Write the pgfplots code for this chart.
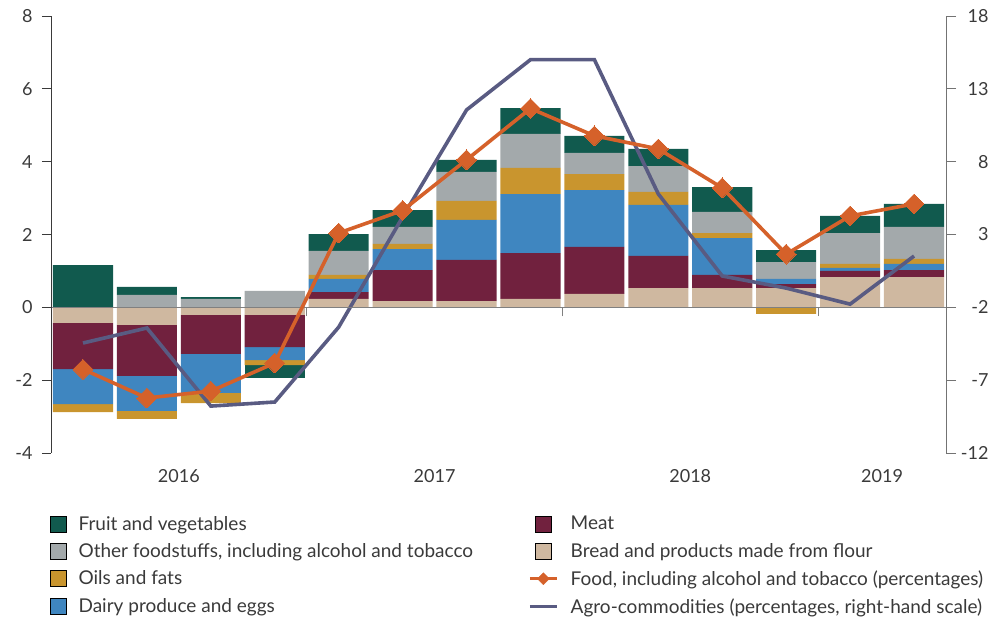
\documentclass[border=0pt]{standalone}
\usepackage{pgfplots}
\usepackage{pgfplotstable}
\pgfplotsset{compat=1.18}
\usepackage{fontspec}
\setmainfont{Lato}
\definecolor{cFruit}{HTML}{115A4E}
\definecolor{cOther}{HTML}{A3A9AB}
\definecolor{cOils}{HTML}{C9952E}
\definecolor{cDairy}{HTML}{3F86C0}
\definecolor{cMeat}{HTML}{71213E}
\definecolor{cBread}{HTML}{CFB8A0}
\definecolor{cFood}{HTML}{D5612A}
\definecolor{cAgro}{HTML}{595B82}
\definecolor{cAxis}{HTML}{3A3A3A}

\pgfplotstableread{
x  fruit other oils  dairy meat  bread
1   1.16  0.00 -0.22 -0.96 -1.27 -0.43
2   0.22  0.34 -0.22 -0.96 -1.40 -0.48
3   0.05  0.23 -0.28 -1.07 -1.07 -0.21
4  -0.35  0.45 -0.14 -0.36 -0.88 -0.21
5   0.46  0.66  0.11  0.36  0.19  0.23
6   0.46  0.47  0.14  0.58  0.85  0.17
7   0.33  0.80  0.52  1.10  1.13  0.17
8   0.71  0.93  0.72  1.62  1.26  0.23
9   0.47  0.58  0.44  1.56  1.29  0.37
10  0.47  0.71  0.36  1.40  0.88  0.53
11  0.68  0.58  0.14  1.01  0.36  0.53
12  0.33  0.46 -0.18  0.14  0.11  0.53
13  0.47  0.85  0.11  0.08  0.17  0.83
14  0.63  0.88  0.14  0.17  0.19  0.83
}\bars

\pgfplotstableread{
x  food  agro
1  -1.70 -4.45
2  -2.49 -3.42
3  -2.30 -8.78
4  -1.53 -8.50
5   2.04 -3.36
6   2.66  4.20
7   4.05 11.55
8   5.46 15.00
9   4.71 15.00
10  4.35  5.78
11  3.28  0.15
12  1.46 -0.68
13  2.51 -1.78
14  2.84  1.52
}\lines

\pgfplotsset{
  base/.style={
    at={(0,0)}, anchor=south west, scale only axis,
    width=895pt, height=437pt,
    xmin=0.5, xmax=14.5,
    font=\fontsize{18pt}{21pt}\selectfont,
    /pgf/number format/assume math mode=true,
  },
  sq/.style={legend image code/.code={\fill[##1] (5.5pt,-8pt) rectangle (21.5pt,8pt);}},
}

\begin{document}
\begin{tikzpicture}
\useasboundingbox (-51pt,-164pt) rectangle (953pt,453pt);

% negative parts of the bars + year labels
\begin{axis}[base, ymin=-4, ymax=8,
  ybar stacked, bar width=0.94,
  axis y line=none, axis x line*=bottom,
  x axis line style={draw=none},
  xtick={2.5,6.5,10.5,13.5}, xticklabels={2016,2017,2018,2019},
  major tick length=0pt,
  xticklabel style={yshift=-13pt, text=cAxis},
]
\addplot[fill=cBread, draw=none] table[x=x, y expr={min(\thisrow{bread},0)}] {\bars};
\addplot[fill=cMeat,  draw=none] table[x=x, y expr={min(\thisrow{meat},0)}] {\bars};
\addplot[fill=cDairy, draw=none] table[x=x, y expr={min(\thisrow{dairy},0)}] {\bars};
\addplot[fill=cOils,  draw=none] table[x=x, y expr={min(\thisrow{oils},0)}] {\bars};
\addplot[fill=cOther, draw=none] table[x=x, y expr={min(\thisrow{other},0)}] {\bars};
\addplot[fill=cFruit, draw=none] table[x=x, y expr={min(\thisrow{fruit},0)}] {\bars};
\end{axis}

% positive parts of the bars
\begin{axis}[base, ymin=-4, ymax=8, hide axis,
  ybar stacked, bar width=0.94]
\addplot[fill=cBread, draw=none] table[x=x, y expr={max(\thisrow{bread},0)}] {\bars};
\addplot[fill=cMeat,  draw=none] table[x=x, y expr={max(\thisrow{meat},0)}] {\bars};
\addplot[fill=cDairy, draw=none] table[x=x, y expr={max(\thisrow{dairy},0)}] {\bars};
\addplot[fill=cOils,  draw=none] table[x=x, y expr={max(\thisrow{oils},0)}] {\bars};
\addplot[fill=cOther, draw=none] table[x=x, y expr={max(\thisrow{other},0)}] {\bars};
\addplot[fill=cFruit, draw=none] table[x=x, y expr={max(\thisrow{fruit},0)}] {\bars};
\end{axis}

% right-hand scale: agro-commodities
\begin{axis}[base, ymin=-12, ymax=18,
  axis x line=none, axis y line*=right,
  y axis line style={draw=gray!90!black, line width=0.8pt},
  ytick={-12,-7,-2,3,8,13,18},
  tick align=outside, major tick length=10pt,
  tick style={draw=gray!90!black, line width=0.8pt},
  yticklabel style={text width=32pt, align=right, xshift=-3pt, text=cAxis},
]
\addplot[color=cAgro, line width=3.6pt, mark=none] table[x=x, y=agro] {\lines};
\end{axis}

% left-hand scale: food line, zero line, legend
\begin{axis}[base, ymin=-4, ymax=8,
  axis x line*=middle, axis y line*=left,
  y axis line style={draw=cAxis, line width=0.8pt},
  x axis line style={draw=gray, line width=1pt},
  ytick={-4,-2,0,2,4,6,8},
  xtick={4.5,8.5,12.5}, xticklabels={,,},
  tick align=outside,
  major tick length=9pt,
  y tick style={draw=cAxis, line width=0.8pt},
  x tick style={draw=gray, line width=1pt},
  yticklabel style={xshift=-6pt, text=cAxis},
  legend columns=2,
  legend cell align=left,
  legend style={draw=none, fill=none,
    at={(-0.0045,-0.135)}, anchor=north west,
    font=\fontsize{19pt}{21pt}\selectfont,
    row sep=7.7pt,
    /tikz/every odd column/.append style={column sep=10pt},
    /tikz/every even column/.append style={column sep=53pt},
    nodes={text=cAxis},
  },
]
\addplot[color=cFood, line width=3.6pt, mark=square*,
  mark size=7pt, mark options={rotate=45, fill=cFood, draw=cFood, line width=0pt},
  forget plot] table[x=x, y=food] {\lines};
\addlegendimage{sq, fill=cFruit}
\addlegendentry{Fruit and vegetables}
\addlegendimage{sq, fill=cMeat}
\addlegendentry{Meat}
\addlegendimage{sq, fill=cOther}
\addlegendentry{Other foodstuffs, including alcohol and tobacco}
\addlegendimage{sq, fill=cBread}
\addlegendentry{Bread and products made from flour}
\addlegendimage{sq, fill=cOils}
\addlegendentry{Oils and fats}
\addlegendimage{color=cFood, legend image code/.code={%
  \draw[cFood, line width=3.6pt] (0pt,0pt) -- (27pt,0pt);
  \fill[cFood] (13.5pt,-6pt) -- (19.5pt,0pt) -- (13.5pt,6pt) -- (7.5pt,0pt) -- cycle;}}
\addlegendentry{Food, including alcohol and tobacco (percentages)}
\addlegendimage{sq, fill=cDairy}
\addlegendentry{Dairy produce and eggs}
\addlegendimage{legend image code/.code={%
  \draw[cAgro, line width=3.6pt] (0pt,0pt) -- (27pt,0pt);}}
\addlegendentry{Agro-commodities (percentages, right-hand scale)}
\end{axis}
\end{tikzpicture}
\end{document}
